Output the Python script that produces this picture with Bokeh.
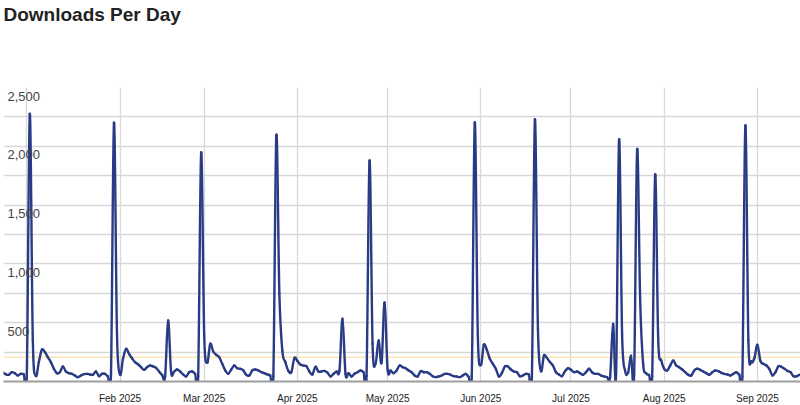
import numpy as np
import pandas as pd
from bokeh.plotting import figure
from bokeh.models import (Range1d, FixedTicker, DatetimeTickFormatter, Span, Title,
                          ColumnDataSource)
from bokeh.core.properties import value
from bokeh.embed import file_html
from bokeh.resources import INLINE

# ---------------- data (daily downloads) ----------------
first_day = "2024-12-24"
dec_2024 = [79, 62, 57, 79, 71, 51, 65, 62]
jan_2025 = [50, 2276, 350, 50, 165, 270, 250, 207, 165, 108, 71, 79, 128, 85, 71, 65,
            51, 37, 51, 62, 65, 60, 57, 85, 45, 65, 65, 45, 60, 2200, 400]
feb_2025 = [60, 193, 278, 235, 198, 164, 147, 122, 99, 122, 136, 128, 116, 85, 55, 43,
            519, 79, 85, 102, 85, 60, 43, 79, 85, 65, 45, 1947]
mar_2025 = [400, 160, 320, 255, 227, 207, 150, 94, 65, 102, 136, 113, 108, 94, 57, 51,
            94, 102, 94, 79, 71, 60, 51, 45, 2092, 750, 260, 165, 90, 80, 200]
apr_2025 = [175, 145, 135, 130, 85, 60, 125, 85, 85, 90, 75, 43, 65, 85, 95, 533,
            65, 71, 43, 65, 79, 94, 80, 50, 1879, 320, 150, 349, 160, 672]
may_2025 = [102, 94, 71, 94, 136, 122, 113, 94, 79, 51, 43, 88, 79, 79, 65, 45,
            37, 43, 51, 65, 65, 57, 45, 43, 37, 51, 65, 40, 50, 2202, 400]
jun_2025 = [140, 312, 270, 193, 150, 108, 43, 71, 128, 128, 102, 85, 79, 45, 51, 65,
            60, 45, 2228, 450, 90, 220, 200, 165, 135, 79, 60, 45, 88, 113]
jul_2025 = [99, 79, 85, 71, 57, 79, 108, 79, 65, 65, 51, 43, 37, 35, 490, 60,
            2058, 400, 90, 75, 220, 60, 1973, 700, 150, 70, 55, 45, 1760, 363, 180]
aug_2025 = [108, 94, 136, 178, 136, 122, 102, 79, 57, 51, 94, 108, 99, 85, 71, 57,
            79, 94, 88, 74, 65, 60, 51, 65, 79, 57, 40, 2177, 350, 170, 200]
sep_2025 = [312, 175, 150, 136, 105, 51, 79, 130, 125, 108, 90, 79, 45, 45, 57]

downloads = (dec_2024 + jan_2025 + feb_2025 + mar_2025 + apr_2025 + may_2025 +
             jun_2025 + jul_2025 + aug_2025 + sep_2025)
dates = pd.date_range(first_day, periods=len(downloads), freq="D")

chart_title = "Downloads Per Day"
y_label_values = [500, 1000, 1500, 2000, 2500]
y_label_texts = ["500", "1,000", "1,500", "2,000", "2,500"]
y_grid_values = [0, 250, 500, 750, 1000, 1250, 1500, 1750, 2000, 2250, 2500]
grid_months = ["2025-01-01", "2025-02-01", "2025-03-01", "2025-04-01", "2025-05-01",
               "2025-06-01", "2025-07-01", "2025-08-01", "2025-09-01"]
label_months = grid_months[1:]
average_per_day = 207

# ---------------- layout ----------------
FRAME_W, FRAME_H = 797, 294
BORDER_LEFT, BORDER_TOP = 3, 87
PX_PER_DAY = 3.0066
JAN1_PX = 23.3          # Jan 1 gridline, px from the frame's left edge
DAY_MS = 86400000.0


def ms(s):
    return pd.Timestamp(s).value / 1e6


x_start = ms("2025-01-01") - JAN1_PX / PX_PER_DAY * DAY_MS
x_end = x_start + FRAME_W / PX_PER_DAY * DAY_MS

# smooth curve (Catmull-Rom bezier segments through the daily points)
x = dates.values.astype("datetime64[ms]").astype(np.int64).astype(float)
y = np.asarray(downloads, dtype=float)
n = len(x)
XP = np.r_[x[0], x, x[-1]]
YP = np.r_[y[0], y, y[-1]]
k = 1.0 / 6.0
prev_x, prev_y = XP[0:n - 1], YP[0:n - 1]
cur_x, cur_y = XP[1:n], YP[1:n]
nxt_x, nxt_y = XP[2:n + 1], YP[2:n + 1]
nxt2_x, nxt2_y = XP[3:n + 2], YP[3:n + 2]
seg = ColumnDataSource(dict(
    x0=cur_x, y0=cur_y, x1=nxt_x, y1=nxt_y,
    cx0=cur_x + (nxt_x - prev_x) * k, cy0=cur_y + (nxt_y - prev_y) * k,
    cx1=nxt_x - (nxt2_x - cur_x) * k, cy1=nxt_y - (nxt2_y - cur_y) * k,
))

p = figure(frame_width=FRAME_W, frame_height=FRAME_H, x_axis_type="datetime",
           y_axis_location=None,
           x_range=Range1d(x_start, x_end), y_range=Range1d(0, 2500),
           output_backend="svg", toolbar_location=None,
           min_border_left=BORDER_LEFT, min_border_right=0,
           min_border_top=BORDER_TOP, min_border_bottom=18,
           outline_line_color=None, background_fill_color="white",
           border_fill_color="white")

# blank spacer panel next to the frame, then the real title on top of it
p.add_layout(Title(text=" ", text_font_size="10px", standoff=46), "above")
p.add_layout(Title(text=chart_title, align="left", vertical_align="top", standoff=3,
                   text_font="Liberation Sans", text_font_size="19px",
                   text_font_style="bold", text_color="#222222"), "above")

p.xgrid.ticker = FixedTicker(ticks=[ms(m) for m in grid_months])
p.xgrid.grid_line_color = "#d8d8d8"
p.xgrid.grid_line_width = 1.3
p.ygrid.ticker = FixedTicker(ticks=y_grid_values)
p.ygrid.grid_line_color = "#d8d8d8"
p.ygrid.grid_line_width = 1.3

p.xaxis.ticker = FixedTicker(ticks=[ms(m) for m in label_months])
fmt = "%b %Y"
p.xaxis.formatter = DatetimeTickFormatter(days=fmt, months=fmt, years=fmt, hours=fmt,
                                          hourmin=fmt, minutes=fmt, minsec=fmt,
                                          seconds=fmt, milliseconds=fmt,
                                          microseconds=fmt)
p.xaxis.axis_line_color = "#9e9e9e"
p.xaxis.axis_line_width = 2
p.xaxis.major_tick_line_color = None
p.xaxis.minor_tick_line_color = None
p.xaxis.major_label_standoff = 5
p.xaxis.major_label_text_font = "Liberation Sans"
p.xaxis.major_label_text_font_size = "10px"
p.xaxis.major_label_text_color = "#222222"

p.add_layout(Span(location=average_per_day, dimension="width", line_color="#f7d98e",
                  line_width=1, level="underlay"))

p.bezier(x0="x0", y0="y0", x1="x1", y1="y1", cx0="cx0", cy0="cy0", cx1="cx1",
         cy1="cy1", source=seg, line_color="#283b84", line_width=2.4, line_cap="round")

p.text(x=[x_start] * len(y_label_values), y=y_label_values, text=y_label_texts,
       x_offset=4, y_offset=4, text_baseline="top", text_align="left",
       text_font=value("Liberation Sans"), text_font_size="13px", text_color="#444444")

open("out.html", "w").write(file_html(p, INLINE))
